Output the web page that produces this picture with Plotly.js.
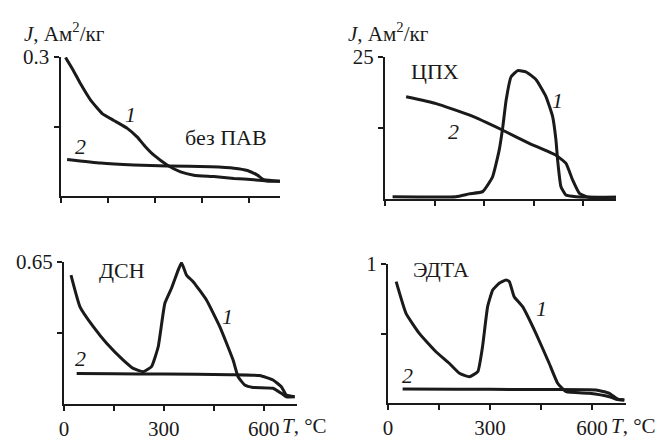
<!DOCTYPE html>
<html><head><meta charset="utf-8">
<script src="https://cdn.plot.ly/plotly-3.0.1.min.js"></script>
<style>html,body{margin:0;padding:0;background:#fff}#c{width:672px;height:440px}
#c svg text{font-family:'Liberation Serif',serif !important}</style>
</head><body>
<div id="c"></div>
<script>
// Panel A: без ПАВ
var tA1 = [16, 40, 64, 96, 133, 170, 213, 245, 270, 298, 340, 383, 425, 489, 553, 617, 660, 700];
var jA1 = [0.299, 0.272, 0.242, 0.207, 0.178, 0.163, 0.146, 0.127, 0.107, 0.088, 0.067, 0.052, 0.045, 0.042, 0.038, 0.035, 0.032, 0.032];
var tA2 = [21, 128, 234, 340, 479, 553, 596, 628, 649, 700];
var jA2 = [0.079, 0.071, 0.067, 0.065, 0.063, 0.06, 0.055, 0.045, 0.035, 0.032];
// Panel B: ЦПХ
var tB1 = [23, 215, 255, 296, 326, 346, 357, 367, 382, 402, 427, 458, 488, 508, 518, 523, 533, 548, 579, 700];
var jB1 = [0.4, 0.4, 0.9, 1.3, 3.9, 8.6, 12.7, 17.4, 21.5, 22.6, 22.4, 21, 18, 14.5, 10.4, 6.9, 2.2, 0.7, 0.4, 0.3];
var tB2 = [64, 155, 255, 357, 437, 518, 548, 569, 589, 618, 700];
var jB2 = [18, 16.8, 14.8, 12.1, 9.8, 7.7, 6.3, 3.3, 1.0, 0.3, 0.3];
// Panel C: ДСН
var tC1 = [21, 48, 88, 128, 178, 208, 238, 263, 283, 303, 323, 343, 353, 368, 388, 428, 468, 508, 523, 543, 568, 628, 653, 668, 693];
var jC1 = [0.59, 0.445, 0.354, 0.278, 0.201, 0.163, 0.148, 0.171, 0.262, 0.461, 0.53, 0.613, 0.647, 0.59, 0.56, 0.476, 0.354, 0.201, 0.125, 0.087, 0.076, 0.072, 0.049, 0.033, 0.033];
var tC2 = [38, 150, 300, 500, 588, 628, 653, 668, 693];
var jC2 = [0.14, 0.138, 0.137, 0.134, 0.13, 0.11, 0.079, 0.041, 0.033];
// Panel D: ЭДТА
var tD1 = [24, 53, 92, 141, 180, 210, 239, 264, 278, 293, 308, 327, 347, 357, 371, 396, 435, 474, 499, 524, 592, 651, 671, 695];
var jD1 = [0.873, 0.645, 0.501, 0.369, 0.286, 0.214, 0.189, 0.225, 0.405, 0.693, 0.813, 0.861, 0.885, 0.873, 0.765, 0.693, 0.501, 0.286, 0.142, 0.081, 0.07, 0.045, 0.027, 0.022];
var tD2 = [43, 200, 400, 612, 651, 676, 695];
var jD2 = [0.1, 0.099, 0.097, 0.094, 0.07, 0.027, 0.022];

var yMax = [0.3, 25, 0.65, 1];
var yTop = ['0.3', '25', '0.65', '1'];
var xMajor = [0, 300, 600];
var xMinor = [150, 450];
var xTickText = ['0', '300', '600'];
var yTitle = '<i>J</i>, Ам<sup>2</sup>/кг';
var xTitle = '<i>T</i>, °C';

var W = 672, H = 440;
// pixel boxes [x0, x1, yTopPx, yBottomPx]
var boxes = [[60.5, 280, 57, 196], [385, 616, 57, 199], [64, 297, 262, 404], [388, 626, 264, 403]];
var FONT = 'Liberation Serif';
var FS = 21;
var col = '#1a1a1a';

var series = [[tA1, jA1, tA2, jA2], [tB1, jB1, tB2, jB2], [tC1, jC1, tC2, jC2], [tD1, jD1, tD2, jD2]];
var data = [];
var layout = {
  width: W, height: H, margin: {l: 0, r: 0, t: 0, b: 0},
  paper_bgcolor: '#fff', plot_bgcolor: '#fff', showlegend: false,
  font: {family: FONT, size: FS, color: col},
  annotations: []
};
var tickStyle = {ticks: 'outside', ticklen: 5, tickwidth: 2, tickcolor: col};
for (var i = 0; i < 4; i++) {
  var sx = i === 0 ? '' : String(i + 1);
  var s = series[i];
  for (var k = 0; k < 2; k++) {
    data.push({x: s[2 * k], y: s[2 * k + 1], type: 'scatter', mode: 'lines', xaxis: 'x' + sx, yaxis: 'y' + sx,
      line: {color: col, width: 3, shape: 'spline', smoothing: 0.4}, cliponaxis: false, hoverinfo: 'none'});
  }
  var b = boxes[i];
  var bottom = i >= 2;
  layout['xaxis' + sx] = {
    domain: [b[0] / W, b[1] / W], range: [0, 700], anchor: 'y' + sx,
    showline: true, linecolor: col, linewidth: 2, showgrid: false, zeroline: false,
    ticks: 'outside', ticklen: 5, tickwidth: 2, tickcolor: col,
    tickvals: xMajor, ticktext: xTickText, showticklabels: bottom, ticklabelstandoff: 0,
    minor: Object.assign({tickvals: xMinor, showgrid: false}, tickStyle),
    tickfont: {family: FONT, size: FS, color: col}
  };
  layout['yaxis' + sx] = {
    domain: [1 - b[3] / H, 1 - b[2] / H], range: [0, yMax[i]], anchor: 'x' + sx,
    showline: true, linecolor: col, linewidth: 2, showgrid: false, zeroline: false,
    ticks: 'outside', ticklen: 5, tickwidth: 2, tickcolor: col,
    tickvals: [yMax[i]], ticktext: [yTop[i]],
    minor: Object.assign({tickvals: [yMax[i] / 2], showgrid: false}, tickStyle),
    tickfont: {family: FONT, size: FS, color: col}
  };
  if (!bottom) {
    layout.annotations.push({text: yTitle, xref: 'paper', yref: 'paper', x: (b[0] - 39) / W, y: 1 - 32 / H,
      xanchor: 'left', yanchor: 'middle', showarrow: false, font: {family: FONT, size: FS, color: col}});
  } else {
    layout.annotations.push({text: xTitle, xref: 'paper', yref: 'paper', x: (b[1] - 17) / W, y: 1 - 426 / H,
      xanchor: 'left', yanchor: 'middle', showarrow: false, font: {family: FONT, size: FS, color: col}});
  }
}
// In-plot labels [panel, text, T, J]
var labels = [
  [0, 'без ПАВ', 527, 0.127], [0, '<i>1</i>', 223, 0.175], [0, '<i>2</i>', 64, 0.106],
  [1, 'ЦПХ', 152, 22.4], [1, '<i>1</i>', 523, 17.4], [1, '<i>2</i>', 209, 11.8],
  [2, 'ДСН', 174, 0.613], [2, '<i>1</i>', 492, 0.4], [2, '<i>2</i>', 51, 0.21],
  [3, 'ЭДТА', 156, 0.957], [3, '<i>1</i>', 450, 0.683], [3, '<i>2</i>', 58, 0.2]
];
labels.forEach(function (l) {
  var sx = l[0] === 0 ? '' : String(l[0] + 1);
  layout.annotations.push({text: l[1], xref: 'x' + sx, yref: 'y' + sx, x: l[2], y: l[3],
    showarrow: false, xanchor: 'center', yanchor: 'middle', font: {family: FONT, size: 22, color: col}});
});
Plotly.newPlot('c', data, layout, {staticPlot: true, displayModeBar: false});
</script></body></html>
